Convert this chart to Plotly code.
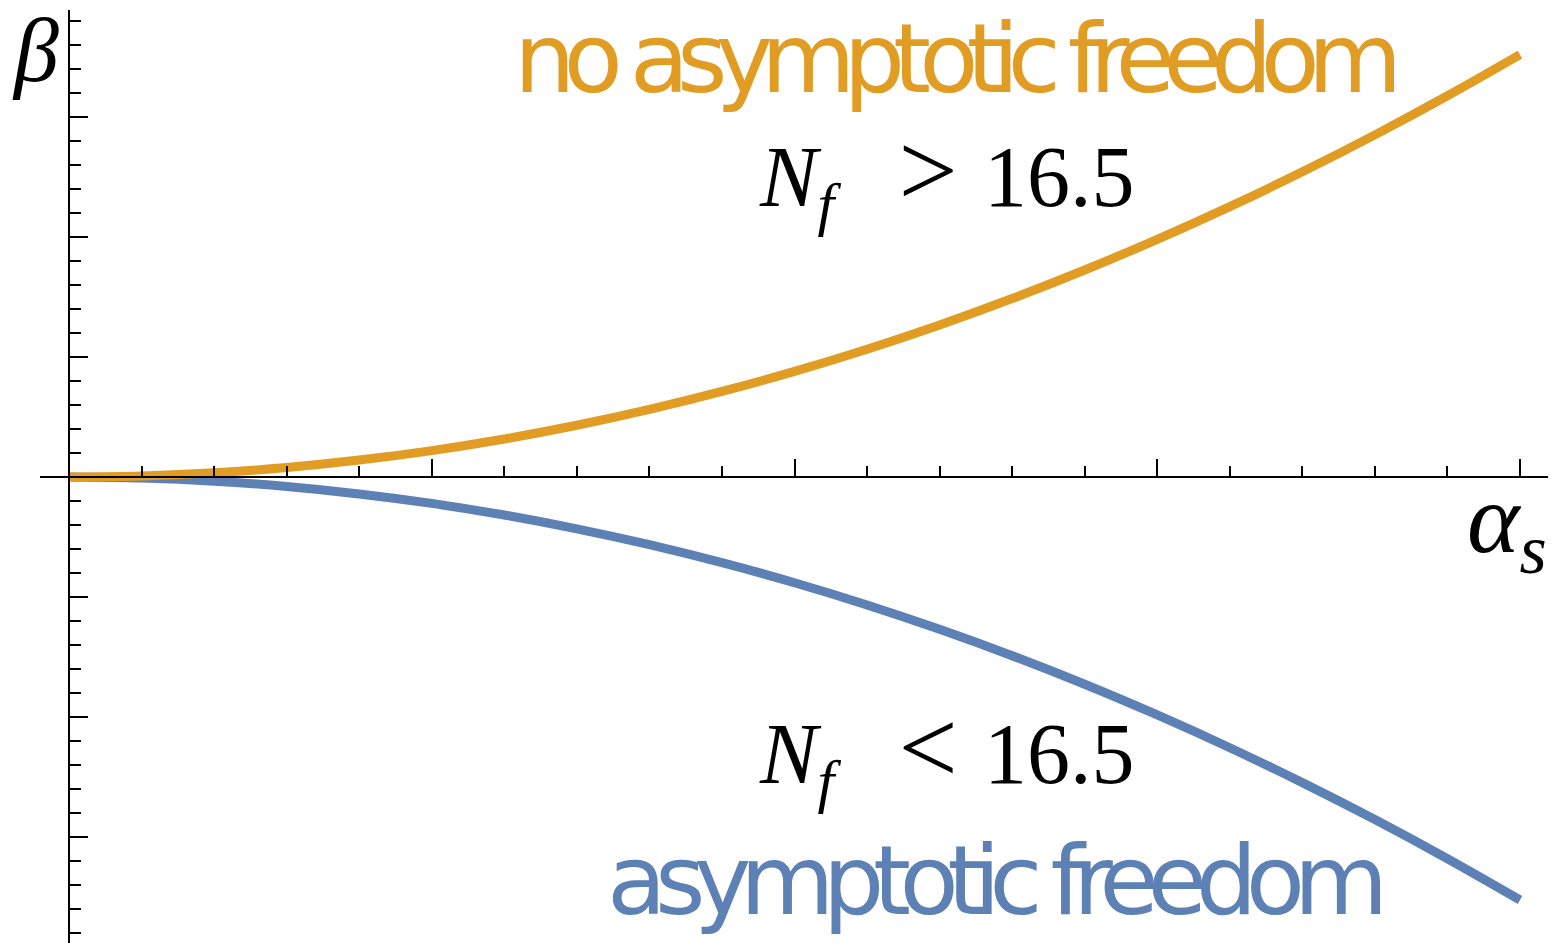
import plotly.graph_objects as go

# coupling values along the alpha_s axis
alpha_s = [0.00, 0.05, 0.10, 0.15, 0.20, 0.25, 0.30, 0.35, 0.40, 0.45, 0.50,
           0.55, 0.60, 0.65, 0.70, 0.75, 0.80, 0.85, 0.90, 0.95, 1.00]
# beta function, N_f > 16.5 (positive branch)
beta_no_af = [0.000, 0.009, 0.035, 0.079, 0.141, 0.220, 0.317, 0.431, 0.563, 0.713, 0.880,
              1.065, 1.267, 1.487, 1.725, 1.980, 2.253, 2.543, 2.851, 3.177, 3.520]
# beta function, N_f < 16.5 (negative branch)
beta_af = [0.000, -0.009, -0.035, -0.079, -0.141, -0.220, -0.317, -0.432, -0.564, -0.714, -0.881,
           -1.066, -1.269, -1.489, -1.727, -1.983, -2.256, -2.547, -2.855, -3.181, -3.525]

x_major = [0.25, 0.5, 0.75, 1.0]
x_minor = [0.05, 0.10, 0.15, 0.20, 0.30, 0.35, 0.40, 0.45, 0.55, 0.60, 0.65, 0.70,
           0.80, 0.85, 0.90, 0.95]
y_major = [-3, -2, -1, 1, 2, 3]
y_minor = [-3.8, -3.6, -3.4, -3.2, -2.8, -2.6, -2.4, -2.2, -1.8, -1.6, -1.4, -1.2,
           -0.8, -0.6, -0.4, -0.2, 0.2, 0.4, 0.6, 0.8, 1.2, 1.4, 1.6, 1.8,
           2.2, 2.4, 2.6, 2.8, 3.2, 3.4, 3.6, 3.8]

ORANGE = "#E19C24"
BLUE = "#5E81B5"
W, H = 1556, 943

fig = go.Figure()
fig.add_trace(go.Scatter(x=alpha_s, y=beta_af, mode="lines",
                         line=dict(color=BLUE, width=9, shape="spline", smoothing=1.0),
                         hoverinfo="skip"))
fig.add_trace(go.Scatter(x=alpha_s, y=beta_no_af, mode="lines",
                         line=dict(color=ORANGE, width=9, shape="spline", smoothing=1.0),
                         hoverinfo="skip"))

axis_common = dict(showline=True, linecolor="black", linewidth=1.6,
                   ticks="inside", tickcolor="black", tickwidth=1.5,
                   showticklabels=False, showgrid=False, zeroline=False,
                   tickmode="array", layer="above traces")

fig.update_layout(
    width=W, height=H,
    margin=dict(l=0, r=0, t=0, b=0),
    paper_bgcolor="white", plot_bgcolor="white",
    showlegend=False,
    xaxis=dict(axis_common, domain=[40 / W, 1548 / W],
               range=[-29 / 1451, 1479 / 1451],
               anchor="free", position=1 - 477 / H,
               tickvals=x_major, ticklen=17,
               minor=dict(tickmode="array", tickvals=x_minor, ticks="inside",
                          ticklen=10, tickwidth=1.5, tickcolor="black",
                          showgrid=False)),
    yaxis=dict(axis_common, domain=[0, 933 / H],
               range=[-466 / 120, 467 / 120],
               anchor="free", position=69 / W,
               tickvals=y_major, ticklen=18,
               minor=dict(tickmode="array", tickvals=y_minor, ticks="inside",
                          ticklen=11, tickwidth=1.5, tickcolor="black",
                          showgrid=False)),
)

sans = "DejaVu Sans"
serif = "Liberation Serif"


def squeezed(text, spacing):
    return '<span style="letter-spacing:%spx">%s</span>' % (spacing, text)


def relation(sym):
    return ("<i>N</i><sub><i>f</i></sub>   "
            '<span style="font-size:105px">' + sym + " </span>16.5")


annotations = [
    dict(x=0.3053, y=3.49, text=squeezed("no asymptotic freedom", -12),
         font=dict(family=sans, size=97, color=ORANGE)),
    dict(x=0.3695, y=-3.36, text=squeezed("asymptotic freedom", -11.5),
         font=dict(family=sans, size=97, color=BLUE)),
    dict(x=0.4742, y=2.52, text=relation("&gt;"),
         font=dict(family=serif, size=86, color="black")),
    dict(x=0.4742, y=-2.29, text=relation("&lt;"),
         font=dict(family=serif, size=86, color="black")),
    dict(x=0.962, y=-0.40, text="<i>α</i><sub><i>s</i></sub>",
         font=dict(family=serif, size=100, color="black")),
]
for a in annotations:
    fig.add_annotation(xref="x", yref="y", xanchor="left", yanchor="middle",
                       showarrow=False, **a)

# beta label sits left of the x-axis range, so place it in paper units
fig.add_annotation(xref="paper", yref="paper", x=0.007, y=1.0,
                   xanchor="left", yanchor="top", showarrow=False, borderpad=0,
                   text="<i>β</i>", font=dict(family=serif, size=90, color="black"))

fig.write_html("out.html")
